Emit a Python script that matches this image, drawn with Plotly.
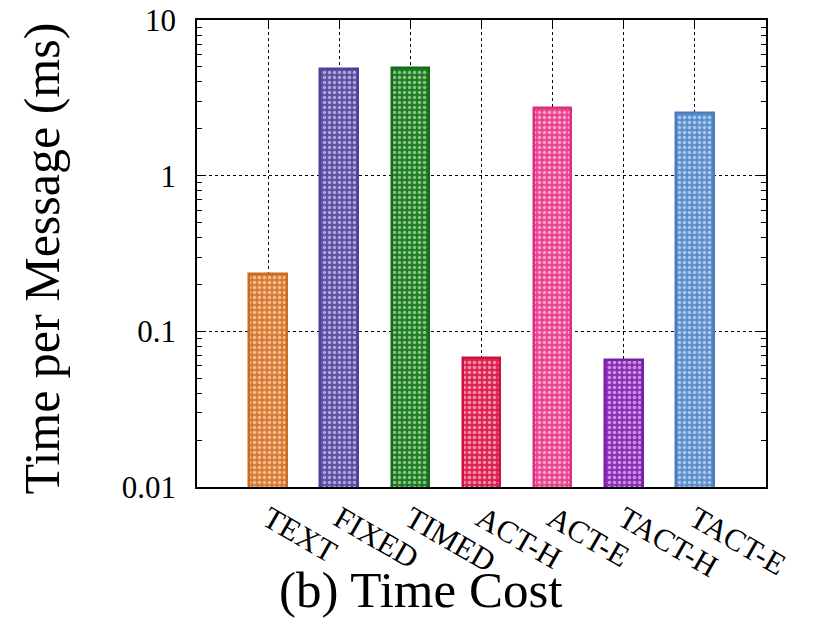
import plotly.graph_objects as go

categories = ["TEXT", "FIXED", "TIMED", "ACT-H", "ACT-E", "TACT-H", "TACT-E"]
values = [0.232, 4.85, 4.9, 0.067, 2.73, 0.065, 2.53]
fill_colors = ["#D97A30", "#5C4FA6", "#1B7D1F", "#DD2150", "#EA4490", "#8C2DB8", "#5A8ECC"]
line_colors = ["#CC6A1E", "#4E4198", "#146A17", "#CC1240", "#DD2F7D", "#7A1FA6", "#4A7DBD"]
ytick_vals = [0.01, 0.1, 1, 10]
ytick_text = ["0.01", "0.1", "1", "10"]

FONT = "Liberation Serif"
xpos = list(range(len(categories)))

fig = go.Figure()
for i, cat in enumerate(categories):
    fig.add_trace(go.Bar(
        x=[xpos[i]], y=[values[i]], width=0.53, name=cat,
        marker=dict(
            color=fill_colors[i],
            line=dict(color=line_colors[i], width=2.5),
            pattern=dict(shape=".", fgcolor="white", size=5, solidity=0.38,
                         fillmode="overlay"),
        ),
        showlegend=False,
    ))

fig.update_layout(
    width=807, height=611,
    margin=dict(l=189, r=49, t=12, b=132, autoexpand=False),
    paper_bgcolor="white", plot_bgcolor="white",
    font=dict(family=FONT, color="black"),
    bargap=0,
)
fig.update_xaxes(
    range=[-1, 7], tickvals=xpos, ticktext=categories, tickangle=30,
    tickfont=dict(family=FONT, size=31, color="black"),
    showline=True, linecolor="black", linewidth=1.5, mirror="allticks",
    ticks="inside", ticklen=8, tickcolor="black", tickwidth=1,
    showgrid=True, gridcolor="black", griddash="dot", gridwidth=1,
    zeroline=False, layer="below traces", automargin=False,
)
fig.update_yaxes(
    type="log", range=[-2.0001, 1.0001], tickvals=ytick_vals, ticktext=ytick_text,
    tickfont=dict(family=FONT, size=31, color="black"),
    showline=True, linecolor="black", linewidth=1.5, mirror="allticks",
    ticks="inside", ticklen=9, tickcolor="black", tickwidth=1,
    minor=dict(ticks="inside", ticklen=5, tickcolor="black", tickwidth=1,
               dtick="D1", showgrid=False),
    showgrid=True, gridcolor="black", griddash="dot", gridwidth=1,
    zeroline=False, ticklabelstandoff=13, ticklabeloverflow="allow",
    automargin=False,
)
fig.add_annotation(
    text="Time per Message (ms)", textangle=-90,
    xref="paper", yref="paper", x=-0.272, y=0.49,
    xanchor="center", yanchor="middle", showarrow=False,
    font=dict(family=FONT, size=50, color="black"),
)
fig.add_annotation(
    text="(b) Time Cost",
    xref="paper", yref="paper", x=0.392, y=-0.22,
    xanchor="center", yanchor="middle", showarrow=False,
    font=dict(family=FONT, size=51, color="black"),
)
fig.write_html("out.html")
